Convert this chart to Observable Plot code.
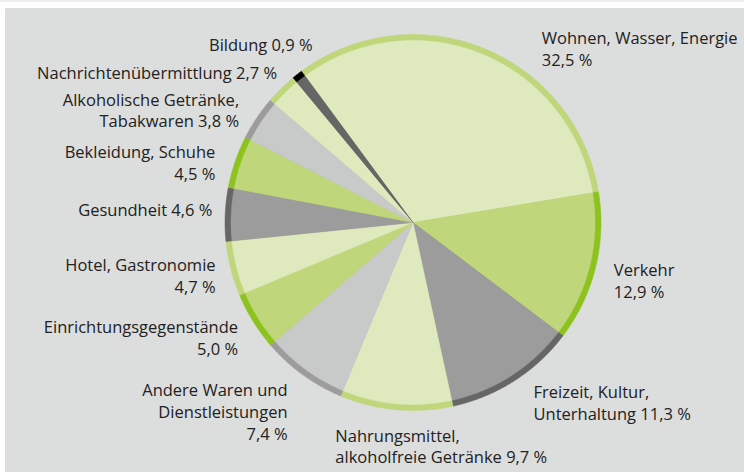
<!DOCTYPE html>
<html>
<head>
<meta charset="utf-8">
<script src="https://cdn.jsdelivr.net/npm/d3@7"></script>
<script src="https://cdn.jsdelivr.net/npm/@observablehq/plot@0.6"></script>
<style>
  html, body { margin: 0; padding: 0; background: #ffffff; }
  #stripe { height: 2px; background: #eeeeee; margin-bottom: 6px; }
  #chart { margin-left: 5px; line-height: 0; }
  #chart svg { background: #dcdddd; display: block; }
</style>
</head>
<body>
<div id="stripe"></div>
<div id="chart"></div>
<script>
// ---- data ----
const categories = [
  "Wohnen, Wasser, Energie",
  "Verkehr",
  "Freizeit, Kultur, Unterhaltung",
  "Nahrungsmittel, alkoholfreie Getränke",
  "Andere Waren und Dienstleistungen",
  "Einrichtungsgegenstände",
  "Hotel, Gastronomie",
  "Gesundheit",
  "Bekleidung, Schuhe",
  "Alkoholische Getränke, Tabakwaren",
  "Nachrichtenübermittlung",
  "Bildung"
];
const values = [32.5, 12.9, 11.3, 9.7, 7.4, 5.0, 4.7, 4.6, 4.5, 3.8, 2.7, 0.9];
const labelTexts = [
  "Wohnen, Wasser, Energie\n32,5 %",
  "Verkehr\n12,9 %",
  "Freizeit, Kultur,\nUnterhaltung 11,3 %",
  "Nahrungsmittel,\nalkoholfreie Getränke 9,7 %",
  "Andere Waren und\nDienstleistungen\n7,4 %",
  "Einrichtungsgegenstände\n5,0 %",
  "Hotel, Gastronomie\n4,7 %",
  "Gesundheit 4,6 %",
  "Bekleidung, Schuhe\n4,5 %",
  "Alkoholische Getränke,\nTabakwaren 3,8 %",
  "Nachrichtenübermittlung 2,7 %",
  "Bildung 0,9 %"
];
const fillColors = ["#dfe9be", "#c0d67b", "#9c9c9c", "#dfe9be", "#c8c9c9", "#c0d67b",
                    "#dfe9be", "#9c9c9c", "#c0d67b", "#c8c9c9", "#dfe9be", "#666666"];
const ringColors = ["#bfd67b", "#8dc21f", "#666666", "#bfd67b", "#9c9c9c", "#8dc21f",
                    "#bfd67b", "#666666", "#8dc21f", "#9c9c9c", "#bfd67b", "#000000"];

// ---- layout ----
const W = 739, H = 464;
const cx = 407.5, cy = 214, R = 188, ring = 6;
const startDeg = -36.4;
const labelRadius = 1.1;
const labelAnchors = ["start","start","start","start","end","end","end","end","end","end","end","end"];
const labelNudge = [[51,17],[0,8],[9,5],[-59,17],[-4,21],[1,6],[3,2],[6,-5],[-2,6],[-2,2],[9,-3],[27,-16]];

const pie = d3.pie().sort(null).value(d => d.value).startAngle(startDeg * Math.PI / 180);
const table = categories.map((c, i) => ({key: c, value: values[i], label: labelTexts[i],
  fill: fillColors[i], ringColor: ringColors[i], anchor: labelAnchors[i], nudge: labelNudge[i]}));
const arcs = pie(table);

function slicePoints(a, r, colorKey, tag) {
  const pts = [{x: 0, y: 0, z: tag + a.data.key, c: a.data[colorKey]}];
  const n = Math.max(2, Math.ceil((a.endAngle - a.startAngle) / (Math.PI / 360)));
  for (let k = 0; k <= n; k++) {
    const t = a.startAngle + (a.endAngle - a.startAngle) * k / n;
    pts.push({x: r * Math.sin(t), y: -r * Math.cos(t), z: tag + a.data.key, c: a.data[colorKey]});
  }
  pts.push({x: 0, y: 0, z: tag + a.data.key, c: a.data[colorKey]});
  return pts;
}
const outerPts = arcs.flatMap(a => slicePoints(a, 1, "ringColor", "o-"));
const innerPts = arcs.flatMap(a => slicePoints(a, 1 - ring / R, "fill", "i-"));

const labels = arcs.map(a => {
  const m = (a.startAngle + a.endAngle) / 2;
  return {
    text: a.data.label, anchor: a.data.anchor,
    x: labelRadius * Math.sin(m) + a.data.nudge[0] / R,
    y: -labelRadius * Math.cos(m) + a.data.nudge[1] / R
  };
});

const textOpts = side => ({
  x: "x", y: "y", text: "text", textAnchor: side, lineAnchor: "middle",
  lineHeight: 1.333, fill: "#222222", fontSize: 16.5, fontFamily: "Open Sans"
});

const chart = Plot.plot({
  width: W, height: H,
  margin: 0,
  style: {background: "#dcdddd", fontFamily: "Open Sans"},
  x: {domain: [-cx / R, (W - cx) / R], range: [0, W], axis: null},
  y: {domain: [-cy / R, (H - cy) / R], range: [0, H], axis: null},
  color: {type: "identity"},
  marks: [
    Plot.line(outerPts, {x: "x", y: "y", z: "z", fill: "c", stroke: "c", strokeWidth: 0.5, curve: "linear"}),
    Plot.line(innerPts, {x: "x", y: "y", z: "z", fill: "c", stroke: "c", strokeWidth: 0.5, curve: "linear"}),
    Plot.text(labels.filter(d => d.anchor === "start"), textOpts("start")),
    Plot.text(labels.filter(d => d.anchor === "end"), textOpts("end"))
  ]
});
document.getElementById("chart").appendChild(chart);
</script>
</body>
</html>
